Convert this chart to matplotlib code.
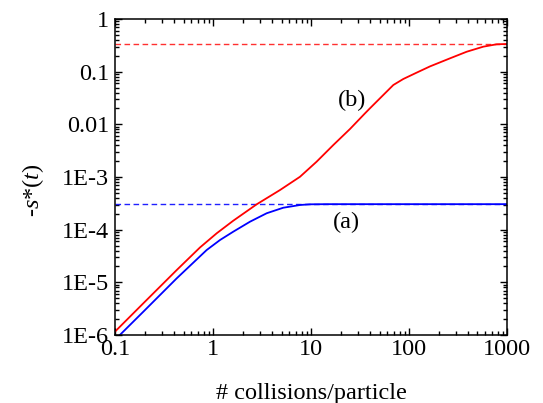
import numpy as np
import matplotlib
matplotlib.use("Agg")
import matplotlib.pyplot as plt
from matplotlib.ticker import FixedLocator, FixedFormatter, LogLocator, NullFormatter

plt.rcParams['font.family'] = ['Liberation Serif', 'DejaVu Serif']
plt.rcParams['mathtext.fontset'] = 'custom'
plt.rcParams['mathtext.rm'] = 'Liberation Serif'
plt.rcParams['mathtext.it'] = 'Liberation Serif:italic'

# curve (b), red
x_b = [0.1, 0.1945, 0.426, 0.737, 1.09, 1.61, 2.79, 4.83, 7.72, 11.4, 16.9,
       25.0, 35.6, 40.0, 54.7, 69.2, 87.5, 120, 164, 262, 388, 573, 785, 1000]
y_b = [1.16e-6, 4.0e-6, 1.71e-5, 4.6e-5, 8.53e-5, 1.48e-4, 3.03e-4, 5.66e-4,
       1.01e-3, 1.95e-3, 4.05e-3, 8.16e-3, 0.0162, 0.0202, 0.0361, 0.0558,
       0.0726, 0.096, 0.126, 0.179, 0.239, 0.298, 0.331, 0.335]

# curve (a), blue
x_a = [0.112, 0.1945, 0.426, 0.862, 1.18, 1.61, 2.39, 3.53, 5.21, 7.72, 9.77,
       15, 100, 1000]
y_a = [1.0e-6, 2.77e-6, 1.19e-5, 4.11e-5, 6.37e-5, 9.16e-5, 1.42e-4, 2.05e-4,
       2.61e-4, 2.94e-4, 3.03e-4, 3.05e-4, 3.05e-4, 3.05e-4]

# asymptotes
lim_b = 0.335
lim_a = 3.05e-4

x_ticks = [0.1, 1, 10, 100, 1000]
x_labels = ['0.1', '1', '10', '100', '1000']
y_ticks = [1e-6, 1e-5, 1e-4, 1e-3, 0.01, 0.1, 1]
y_labels = ['1E-6', '1E-5', '1E-4', '1E-3', '0.01', '0.1', '1']

fs = 17.5

fig = plt.figure(figsize=(5.43, 4.03), dpi=100)
ax = fig.add_axes([0.2118, 0.1687, 0.7219, 0.7842])

ax.axhline(lim_b, color='#ff3030', lw=1.0, ls=(0, (4, 2.5)))
ax.axhline(lim_a, color='#2020ff', lw=1.0, ls=(0, (4, 2.5)))
ax.plot(x_b, y_b, color='red', lw=1.3)
ax.plot(x_a, y_a, color='blue', lw=1.3)

ax.set_xscale('log')
ax.set_yscale('log')
ax.set_xlim(0.1, 1000)
ax.set_ylim(1e-6, 1)

ax.xaxis.set_major_locator(FixedLocator(x_ticks))
ax.xaxis.set_major_formatter(FixedFormatter(x_labels))
ax.yaxis.set_major_locator(FixedLocator(y_ticks))
ax.yaxis.set_major_formatter(FixedFormatter(y_labels))
ax.xaxis.set_minor_locator(LogLocator(base=10, subs=np.arange(2, 10), numticks=20))
ax.yaxis.set_minor_locator(LogLocator(base=10, subs=np.arange(2, 10), numticks=20))
ax.xaxis.set_minor_formatter(NullFormatter())
ax.yaxis.set_minor_formatter(NullFormatter())

ax.tick_params(which='both', direction='in', top=True, right=True, width=1.0)
ax.tick_params(which='major', length=5, labelsize=fs)
ax.tick_params(which='minor', length=3)
ax.tick_params(axis='x', pad=3)
ax.tick_params(axis='y', pad=4)
for s in ax.spines.values():
    s.set_linewidth(1.1)

ax.text(26, 0.029, '(b)', fontsize=fs, ha='center', va='center')
ax.text(23.2, 1.36e-4, '(a)', fontsize=fs, ha='center', va='center')

fig.text(311 / 543, 1 - 393 / 403, '# collisions/particle', fontsize=fs,
         ha='center', va='center')
fig.text(33 / 543, 1 - 190 / 403, r'-$s$*($t$)', fontsize=fs,
         ha='center', va='center', rotation=90)

fig.savefig('out.png', dpi=100)
